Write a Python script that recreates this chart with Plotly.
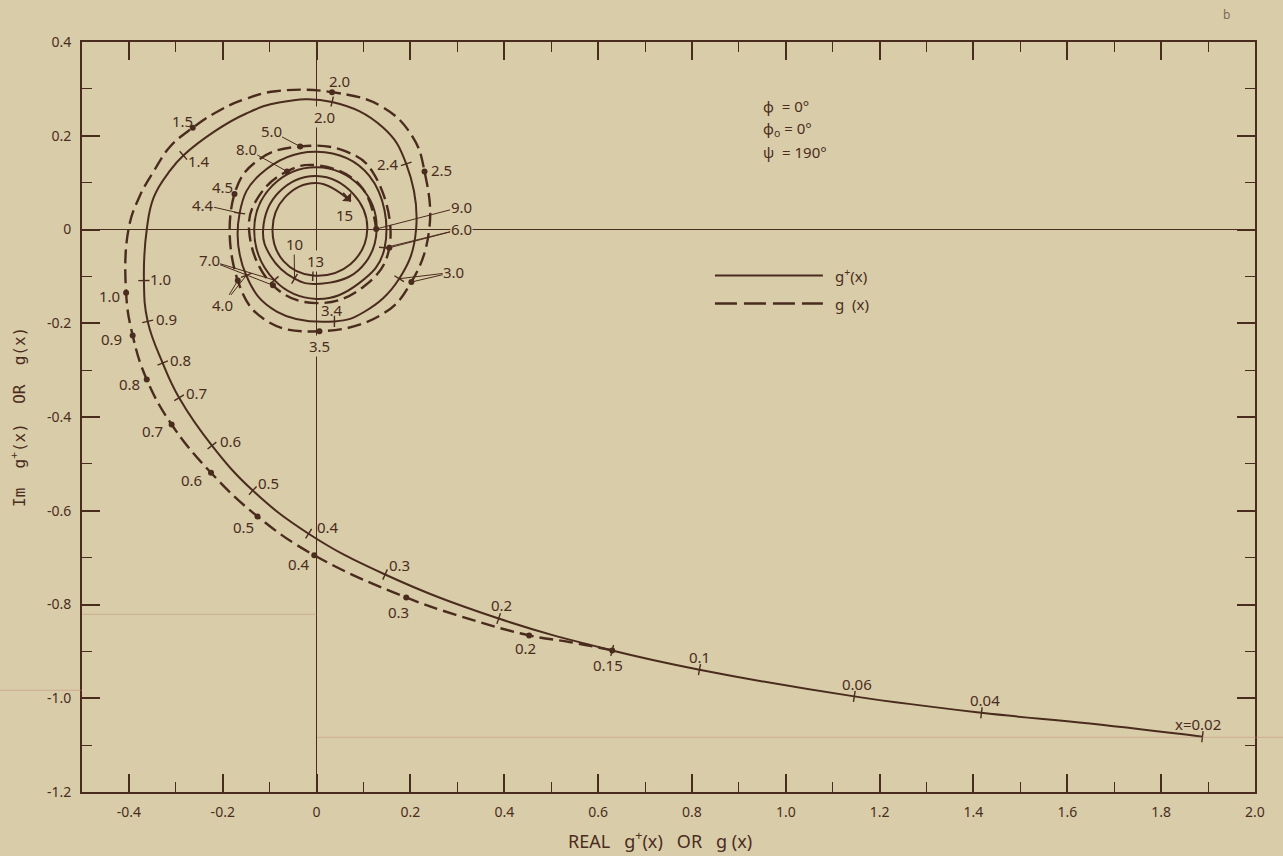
import math
import plotly.graph_objects as go

# ---------------------------------------------------------------------------
# Data: complex plane traces of g+(x) (solid) and g(x) (dashed).
# Each point: real part, imaginary part, and the x value marked there (or None)
# ---------------------------------------------------------------------------
gp_re = [1.888, 1.648, 1.417, 1.146, 0.816, 0.630, 0.388, 0.146, -0.017,
         -0.136, -0.223, -0.293, -0.328, -0.360, -0.368, -0.362, -0.347, -0.312,
         -0.284, -0.215, -0.151, -0.080, 0.033, 0.141, 0.191, 0.212, 0.176, 0.101,
         0.038, -0.085, -0.150, -0.164, -0.120, 0.000, 0.112, 0.145,
         0.090, 0.000, -0.090, -0.133, -0.094, 0.000, 0.093, 0.128, 0.088, 0.000,
         -0.047, -0.098, -0.114, -0.080, 0.000, 0.078, 0.108, 0.072, -0.008, -0.070,
         -0.094, -0.068, 0.000, 0.073]
gp_im = [-1.082, -1.054, -1.031, -0.996, -0.939, -0.898, -0.830, -0.736,
         -0.649, -0.557, -0.461, -0.359, -0.285, -0.196, -0.109, 0.000, 0.069,
         0.126, 0.158, 0.211, 0.247, 0.271, 0.272, 0.218, 0.140, 0.000, -0.105,
         -0.176, -0.196, -0.175, -0.098, 0.035, 0.118, 0.166, 0.115,
         -0.039, -0.115, -0.148, -0.108, 0.000, 0.094, 0.133, 0.092, 0.000, -0.088,
         -0.116, -0.105, -0.057, 0.000, 0.080, 0.114, 0.076, 0.000, -0.074, -0.098,
         -0.068, 0.000, 0.068, 0.099, 0.060]
gp_x = ["0.02", None, "0.04", "0.06", "0.1", "0.15", "0.2", "0.3", "0.4",
        "0.5", "0.6", "0.7", "0.8", "0.9", "1.0", None, None, None,
        "1.4", None, None, None, "2.0", None, "2.4", None, "3.0", None,
        "3.4", None, "4.0", "4.4", None, None, None, "6.0",
        None, None, "7.0", None, None, None, None, None, None, None,
        "10", None, None, None, None, None, None, None, "13", None,
        None, None, None, "15"]

g_re = [0.630, 0.539, 0.453, 0.297, 0.191, -0.005, -0.126, -0.225, -0.309, -0.362,
        -0.392, -0.406, -0.401, -0.378, -0.346, -0.312, -0.264, -0.207, -0.150,
        -0.087, 0.033, 0.141, 0.205, 0.230, 0.240, 0.202, 0.141,
        0.006, -0.108, -0.168, -0.175, -0.122, -0.035, 0.061, 0.120,
        0.155, 0.100, 0.000, -0.093, -0.144, -0.123, -0.063, 0.000, 0.093, 0.127]
g_im = [-0.898, -0.880, -0.866, -0.822, -0.785, -0.695, -0.612, -0.519, -0.416,
        -0.320, -0.226, -0.135, 0.000, 0.069, 0.126, 0.177, 0.217, 0.254, 0.279,
        0.295, 0.293, 0.261, 0.197, 0.124, 0.000, -0.112, -0.180,
        -0.217, -0.194, -0.109, 0.076, 0.150, 0.177, 0.167, 0.122,
        -0.039, -0.122, -0.157, -0.119, 0.000, 0.071, 0.124, 0.137, 0.094, 0.001]
g_x = ["0.15", None, "0.2", None, "0.3", "0.4", "0.5", "0.6", "0.7", "0.8",
       "0.9", "1.0", None, None, None, None, "1.5", None, None,
       None, "2.0", None, None, "2.5", None, "3.0", None,
       "3.5", None, "4.0", "4.5", None, "5.0", None, None,
       "6.0", None, None, "7.0", None, None, "8.0", None, None, "9.0"]

x_tick_vals = [-0.4, -0.2, 0.0, 0.2, 0.4, 0.6, 0.8, 1.0, 1.2, 1.4, 1.6, 1.8, 2.0]
x_tick_text = ["-0.4", "-0.2", "0", "0.2", "0.4", "0.6", "0.8", "1.0", "1.2",
               "1.4", "1.6", "1.8", "2.0"]
y_tick_vals = [0.4, 0.2, 0.0, -0.2, -0.4, -0.6, -0.8, -1.0, -1.2]
y_tick_text = ["0.4", "0.2", "0", "-0.2", "-0.4", "-0.6", "-0.8", "-1.0", "-1.2"]

# ---------------------------------------------------------------------------
# Styling
# ---------------------------------------------------------------------------
PAPER = "#D9CCA8"
INK = "#4A2C1E"
FONT = "Noto Sans"
LBL = dict(family=FONT, size=15, color=INK)

curves = {"gp": (gp_re, gp_im, gp_x), "g": (g_re, g_im, g_x)}


def point(curve, key):
    re, im, xs = curves[curve]
    i = xs.index(key)
    return re[i], im[i]


def tick_angles(re, im, xs):
    """Screen rotation that sets a line marker across the curve."""
    out = []
    for i, k in enumerate(xs):
        if k is None:
            continue
        a = max(i - 1, 0)
        b = min(i + 1, len(re) - 1)
        dx, dy = re[b] - re[a], im[b] - im[a]
        out.append(math.degrees(math.atan2(-dy, dx)))
    return out


def marked(re, im, xs):
    mx = [r for r, k in zip(re, xs) if k is not None]
    my = [m for m, k in zip(im, xs) if k is not None]
    return mx, my


fig = go.Figure()

# curves
fig.add_trace(go.Scatter(x=gp_re, y=gp_im, mode="lines", name="g+(x)",
                         line=dict(color=INK, width=2, shape="spline", smoothing=1.2),
                         hoverinfo="skip", showlegend=False))
fig.add_trace(go.Scatter(x=g_re, y=g_im, mode="lines", name="g(x)",
                         line=dict(color=INK, width=2.4, dash="14px,6px",
                                   shape="spline", smoothing=1.2),
                         hoverinfo="skip", showlegend=False))

# cross ticks on g+(x), dots on g(x)
mx, my = marked(gp_re[:-1], gp_im[:-1], gp_x[:-1])
fig.add_trace(go.Scatter(x=mx, y=my, mode="markers", showlegend=False, hoverinfo="skip",
                         marker=dict(symbol="line-ns", size=8,
                                     angle=tick_angles(gp_re, gp_im, gp_x)[:-1],
                                     line=dict(width=1.4, color=INK))))
mx, my = marked(g_re, g_im, g_x)
fig.add_trace(go.Scatter(x=mx, y=my, mode="markers", showlegend=False, hoverinfo="skip",
                         marker=dict(symbol="circle", size=6, color=INK)))

# ---------------------------------------------------------------------------
# Point labels: (curve, x value, text, text position, leader targets, masked)
# ---------------------------------------------------------------------------
labels = [
    ("gp", "0.02", "x=0.02", 1.878, -1.054, [], False),
    ("gp", "0.04", "0.04", 1.424, -1.004, [], False),
    ("gp", "0.06", "0.06", 1.151, -0.970, [], False),
    ("gp", "0.1", "0.1", 0.816, -0.913, [], False),
    ("gp", "0.15", "0.15", 0.620, -0.930, [], False),
    ("gp", "0.2", "0.2", 0.395, -0.802, [], False),
    ("gp", "0.3", "0.3", 0.176, -0.716, [], False),
    ("gp", "0.4", "0.4", 0.024, -0.635, [], False),
    ("gp", "0.5", "0.5", -0.102, -0.540, [], False),
    ("gp", "0.6", "0.6", -0.184, -0.452, [], False),
    ("gp", "0.7", "0.7", -0.255, -0.348, [], False),
    ("gp", "0.8", "0.8", -0.291, -0.278, [], False),
    ("gp", "0.9", "0.9", -0.319, -0.190, [], False),
    ("gp", "1.0", "1.0", -0.333, -0.105, [], False),
    ("gp", "1.4", "1.4", -0.251, 0.147, [], False),
    ("gp", "2.0", "2.0", 0.016, 0.239, [], True),
    ("gp", "2.4", "2.4", 0.152, 0.139, [], False),
    ("gp", "3.4", "3.4", 0.033, -0.171, [], False),
    ("gp", "4.4", "4.4", -0.243, 0.053, [("gp", "4.4")], False),
    ("gp", "10", "10", -0.048, -0.031, [("gp", "10")], False),
    ("gp", "13", "13", -0.003, -0.068, [], True),
    ("gp", "15", "15", 0.059, 0.032, [], False),
    ("g", "0.2", "0.2", 0.445, -0.892, [], False),
    ("g", "0.3", "0.3", 0.175, -0.816, [], False),
    ("g", "0.4", "0.4", -0.038, -0.714, [], False),
    ("g", "0.5", "0.5", -0.156, -0.635, [], False),
    ("g", "0.6", "0.6", -0.266, -0.535, [], False),
    ("g", "0.7", "0.7", -0.350, -0.429, [], False),
    ("g", "0.8", "0.8", -0.398, -0.329, [], False),
    ("g", "0.9", "0.9", -0.438, -0.233, [], False),
    ("g", "1.0", "1.0", -0.441, -0.141, [], False),
    ("g", "1.5", "1.5", -0.285, 0.231, [], False),
    ("g", "2.0", "2.0", 0.049, 0.316, [], False),
    ("g", "2.5", "2.5", 0.267, 0.126, [], False),
    ("g", "3.0", "3.0", 0.292, -0.091, [("g", "3.0"), ("gp", "3.0")], False),
    ("g", "3.5", "3.5", 0.006, -0.248, [], True),
    ("g", "4.0", "4.0", -0.200, -0.162, [("g", "4.0"), ("gp", "4.0")], False),
    ("g", "4.5", "4.5", -0.200, 0.090, [], False),
    ("g", "5.0", "5.0", -0.097, 0.210, [("g", "5.0")], False),
    ("g", "6.0", "6.0", 0.308, 0.001, [("g", "6.0"), ("gp", "6.0")], True),
    ("g", "7.0", "7.0", -0.229, -0.066, [("g", "7.0"), ("gp", "7.0")], False),
    ("g", "8.0", "8.0", -0.150, 0.172, [("g", "8.0")], False),
    ("g", "9.0", "9.0", 0.308, 0.048, [("g", "9.0")], False),
]

annotations = []
for curve, key, text, tx, ty, leaders, masked in labels:
    base = dict(text=text, font=LBL, xref="x", yref="y", borderpad=0)
    if masked:
        base["bgcolor"] = PAPER
    if not leaders:
        annotations.append(dict(base, x=tx, y=ty, showarrow=False))
        continue
    for j, (c, k) in enumerate(leaders):
        px, py = point(c, k)
        a = dict(base, x=px, y=py, ax=tx, ay=ty, axref="x", ayref="y",
                 showarrow=True, arrowhead=0, arrowwidth=1, arrowcolor=INK, standoff=0)
        if j > 0:
            a["font"] = dict(LBL, color="rgba(0,0,0,0)")
            a.pop("bgcolor", None)
        annotations.append(a)

# arrowhead at the end of the g+(x) spiral
ex, ey = gp_re[-1], gp_im[-1]
annotations.append(dict(x=ex, y=ey, xref="x", yref="y", ax=-9, ay=-10, text="",
                        showarrow=True, arrowhead=1, arrowsize=1.3, arrowwidth=1.6,
                        arrowcolor=INK, standoff=0))

# parameter block
for txt, yy in [("ϕ  = 0°", 0.264), ("ϕ<sub>o</sub> = 0°", 0.215), ("ψ  = 190°", 0.165)]:
    annotations.append(dict(x=0.948, y=yy, xref="x", yref="y", text=txt, showarrow=False,
                            xanchor="left", font=dict(family=FONT, size=15, color=INK)))

# key
annotations.append(dict(x=1.100, y=-0.098, xref="x", yref="y", text="g<sup>+</sup>(x)",
                        showarrow=False, xanchor="left", font=dict(family=FONT, size=15, color=INK)))
annotations.append(dict(x=1.100, y=-0.158, xref="x", yref="y", text="g  (x)",
                        showarrow=False, xanchor="left", font=dict(family=FONT, size=15, color=INK)))

# axis titles and corner mark
annotations.append(dict(x=-0.0546, y=0.5, xref="paper", yref="paper", textangle=-90,
                        xanchor="center", yanchor="middle",
                        text="Im  g<sup>+</sup>(x)  OR  g(x)", showarrow=False,
                        font=dict(family="DejaVu Sans Mono", size=16, color=INK)))
annotations.append(dict(x=0.4928, y=-0.0644, xref="paper", yref="paper",
                        xanchor="center", yanchor="middle",
                        text="REAL   g<sup>+</sup>(x)   OR   g (x)", showarrow=False,
                        font=dict(family=FONT, size=18, color=INK)))
annotations.append(dict(x=0.976, y=1.036, xref="paper", yref="paper", text="b",
                        xanchor="center", yanchor="middle",
                        showarrow=False, font=dict(family=FONT, size=12, color="#7a6a58")))

shapes = [
    dict(type="line", xref="x", yref="y", x0=0.849, x1=1.079, y0=-0.098, y1=-0.098,
         line=dict(color=INK, width=2)),
    dict(type="line", xref="x", yref="y", x0=0.849, x1=1.079, y0=-0.158, y1=-0.158,
         line=dict(color=INK, width=2.4, dash="22px,7px")),
    # faint paste-up edges on the sheet
    dict(type="line", xref="paper", yref="paper", x0=0.0, x1=0.2003, y0=0.2369, y1=0.2369,
         line=dict(color="rgba(190,135,125,0.45)", width=1)),
    dict(type="line", xref="paper", yref="paper", x0=-0.07, x1=0.0, y0=0.1356, y1=0.1356,
         line=dict(color="rgba(190,135,125,0.45)", width=1)),
    dict(type="line", xref="paper", yref="paper", x0=0.2003, x1=1.024, y0=0.0729, y1=0.0729,
         line=dict(color="rgba(190,135,125,0.45)", width=1)),
]

axis_common = dict(showgrid=False, zeroline=True, zerolinecolor=INK, zerolinewidth=1.2,
                   showline=True, linecolor=INK, linewidth=2, mirror="ticks",
                   ticks="inside", ticklen=18, tickwidth=1.5, tickcolor=INK,
                   tickfont=dict(family=FONT, size=14, color=INK))

fig.update_xaxes(range=[-0.5, 2.0], tickmode="array", tickvals=x_tick_vals,
                 ticktext=x_tick_text, ticklabelstandoff=6,
                 minor=dict(dtick=0.1, tick0=0, ticks="inside", ticklen=10,
                            tickwidth=1.3, tickcolor=INK),
                 **axis_common)
fig.update_yaxes(range=[-1.2, 0.4], tickmode="array", tickvals=y_tick_vals,
                 ticktext=y_tick_text, ticklabelstandoff=6,
                 minor=dict(dtick=0.1, tick0=0, ticks="inside", ticklen=10,
                            tickwidth=1.3, tickcolor=INK),
                 **axis_common)

fig.update_layout(width=1283, height=856, paper_bgcolor=PAPER, plot_bgcolor=PAPER,
                  margin=dict(l=82, r=28, t=42, b=64, autoexpand=False),
                  annotations=annotations, shapes=shapes, showlegend=False)

fig.write_html("out.html")
